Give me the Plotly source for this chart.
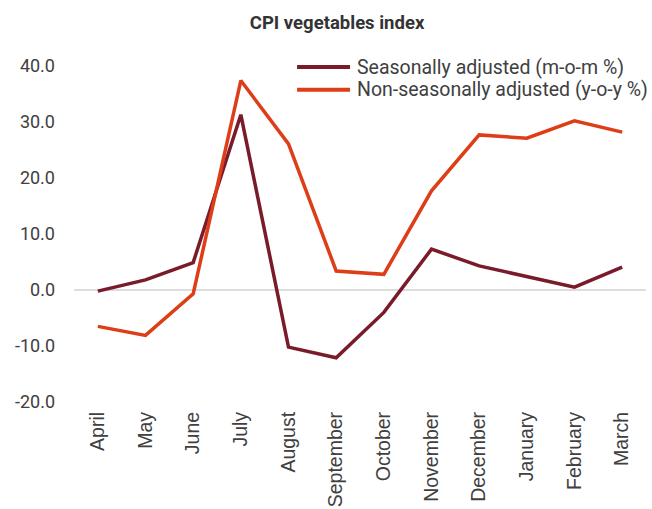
import plotly.graph_objects as go

months = ["April", "May", "June", "July", "August", "September", "October",
          "November", "December", "January", "February", "March"]
seasonal = [-0.2, 1.8, 4.9, 31.3, -10.2, -12.1, -4.0, 7.3, 4.3, 2.4, 0.5, 4.1]
nonseasonal = [-6.5, -8.1, -0.7, 37.4, 26.1, 3.4, 2.8, 17.7, 27.7, 27.1, 30.2, 28.2]
yticks = [-20, -10, 0, 10, 20, 30, 40]
names = ["Seasonally adjusted (m-o-m %)", "Non-seasonally adjusted (y-o-y %)"]
colors = ["#7A1B2C", "#DD3E17"]

TEXT = "#404040"

fig = go.Figure()
for vals, name, col in zip([seasonal, nonseasonal], names, colors):
    fig.add_trace(go.Scatter(x=months, y=vals, mode="lines", name=name,
                             line=dict(color=col, width=3.5), showlegend=False))

# manual legend (paper coords)
leg_y = [0.997, 0.929]
for yy, name, col in zip(leg_y, names, colors):
    fig.add_shape(type="line", xref="paper", yref="paper",
                  x0=0.390, x1=0.4825, y0=yy, y1=yy,
                  line=dict(color=col, width=4))
    fig.add_annotation(xref="paper", yref="paper", x=0.491, y=yy,
                       xanchor="left", yanchor="middle", showarrow=False,
                       text=name, font=dict(family="Roboto", size=19.5, color=TEXT))

fig.update_layout(
    width=652, height=509,
    margin=dict(l=74, r=6, t=66, b=107, autoexpand=False),
    paper_bgcolor="white", plot_bgcolor="white",
    title=dict(text="<b>CPI vegetables index</b>", xref="container", x=0.517,
               xanchor="center", yref="container", y=1 - 23 / 509, yanchor="middle",
               font=dict(family="Roboto", size=18.5, color="#333333")),
    font=dict(family="Roboto", color=TEXT),
    showlegend=False,
    xaxis=dict(showgrid=False, zeroline=False, showline=False, automargin=False,
               tickangle=-90, ticklabelstandoff=5,
               tickfont=dict(family="Liberation Sans", size=19.5, color=TEXT),
               ticks="", range=[-0.5, 11.5]),
    yaxis=dict(range=[-20, 40], tickvals=yticks, automargin=False,
               ticktext=[f"{v:.1f}" for v in yticks],
               showgrid=False, zeroline=True, zerolinecolor="#DDDDDD", zerolinewidth=2,
               showline=False, ticks="", ticklabelstandoff=18,
               tickfont=dict(family="Roboto", size=18, color=TEXT)),
)

fig.write_html("out.html", config={"displayModeBar": False},
               post_script="document.body.style.margin='0';document.body.style.padding='0';")
